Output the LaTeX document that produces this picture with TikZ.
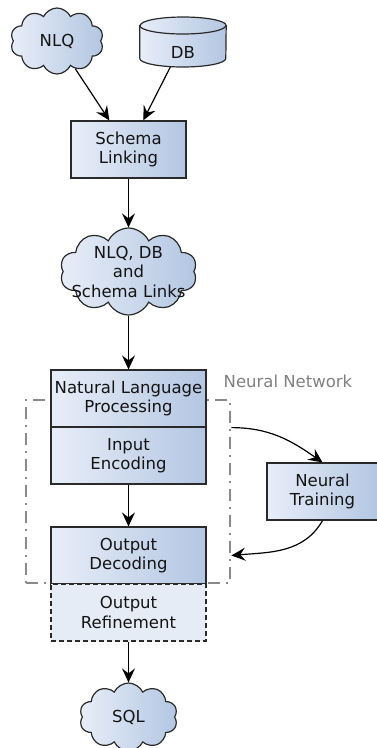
\documentclass[tikz,border=0pt]{standalone}
\usepackage{fontspec}
\setmainfont{DejaVu Sans}
\usetikzlibrary{shapes.symbols,arrows.meta,calc}
\definecolor{boxL}{HTML}{E8EEF8}
\definecolor{boxR}{HTML}{B3C6E2}
\definecolor{edgec}{HTML}{2A2A2A}
\definecolor{flatc}{HTML}{E5ECF6}
\definecolor{framegray}{HTML}{8A8A8A}
\definecolor{labelgray}{HTML}{808080}
\definecolor{textc}{HTML}{141414}
\begin{document}
\begin{tikzpicture}[x=1pt,y=-1pt,
  every node/.style={font=\fontsize{16.5}{19.5}\selectfont, text=textc},
  shadefill/.style={draw=edgec, line width=1.2pt, left color=boxL, right color=boxR},
  stepbox/.style={shadefill, minimum height=57pt, inner sep=0pt, align=center},
  cloudnode/.style={cloud, cloud puffs=10, cloud puff arc=130, cloud ignores aspect, shadefill, inner sep=0pt},
  arr/.style={-{Stealth[length=14pt,width=13pt,inset=5pt]}, line width=1.2pt, draw=black},
]
\useasboundingbox (0,0) rectangle (377,748);

% neural network frame (behind the boxes)
\node[draw=framegray, line width=2.6pt, dash pattern=on 12pt off 6pt on 2pt off 6pt,
      minimum width=204pt, minimum height=183pt, inner sep=0pt] (frame) at (128,491.5) {};
\node[text=labelgray, anchor=base] (nnlabel) at (288,387) {Neural Network};

% inputs
\node[cloudnode, minimum width=93pt, minimum height=66pt] (nlq) at (57,41) {};
\node (nlqtext) at (nlq) {NLQ};

\node[minimum width=86pt, minimum height=50pt, inner sep=0pt] (db) at (183,42) {};
\path[shadefill] (db.west |- 0,25.5) -- (db.west |- 0,58.5)
  arc[start angle=180, end angle=360, x radius=43pt, y radius=8.5pt]
  -- (db.east |- 0,25.5)
  arc[start angle=0, end angle=180, x radius=43pt, y radius=8.5pt] -- cycle;
\draw[draw=edgec, line width=1.2pt] (db.west |- 0,25.5)
  arc[start angle=180, end angle=360, x radius=43pt, y radius=8.5pt];
\node (dbtext) at (183,52) {DB};

% pipeline
\node[stepbox, minimum width=115pt] (sl) at (128.5,149.5) {Schema\\Linking};
\node[cloudnode, minimum width=137pt, minimum height=87pt] (links) at (128.5,271.5) {};
\node[align=center] (linkstext) at (links) {NLQ, DB\\and\\Schema Links};

\node[stepbox, minimum width=155pt] (nlp) at (128.5,398.5) {Natural Language\\Processing};
\node[stepbox, minimum width=155pt] (ie) at (128.5,455.5) {Input\\Encoding};
\node[stepbox, minimum width=155pt] (od) at (128.5,555.5) {Output\\Decoding};
\node[draw=edgec, line width=1.2pt, dash pattern=on 5pt off 3pt, fill=flatc,
      minimum width=155pt, minimum height=57pt, inner sep=0pt, align=center] (orf) at (128.5,612.5) {Output\\Refinement};

\node[stepbox, minimum width=111pt] (nt) at (322.5,491.5) {Neural\\Training};

\node[cloudnode, minimum width=98pt, minimum height=68pt] (sql) at (128.5,717) {};
\node (sqltext) at (sql) {SQL};

% connectors
\draw[arr] (nlq) -- (sl);
\draw[arr] (db) -- (sl);
\draw[arr] (sl) -- (links);
\draw[arr] (links) -- (nlp);
\draw[arr] (ie) -- (od);
\draw[arr] (orf) -- (sql);
\draw[arr] (frame.east |- nlp.south) to[out=0, in=145] (nt.north);
\draw[arr] (nt.south) to[out=-120, in=5] (frame.east |- od.center);
\end{tikzpicture}
\end{document}
